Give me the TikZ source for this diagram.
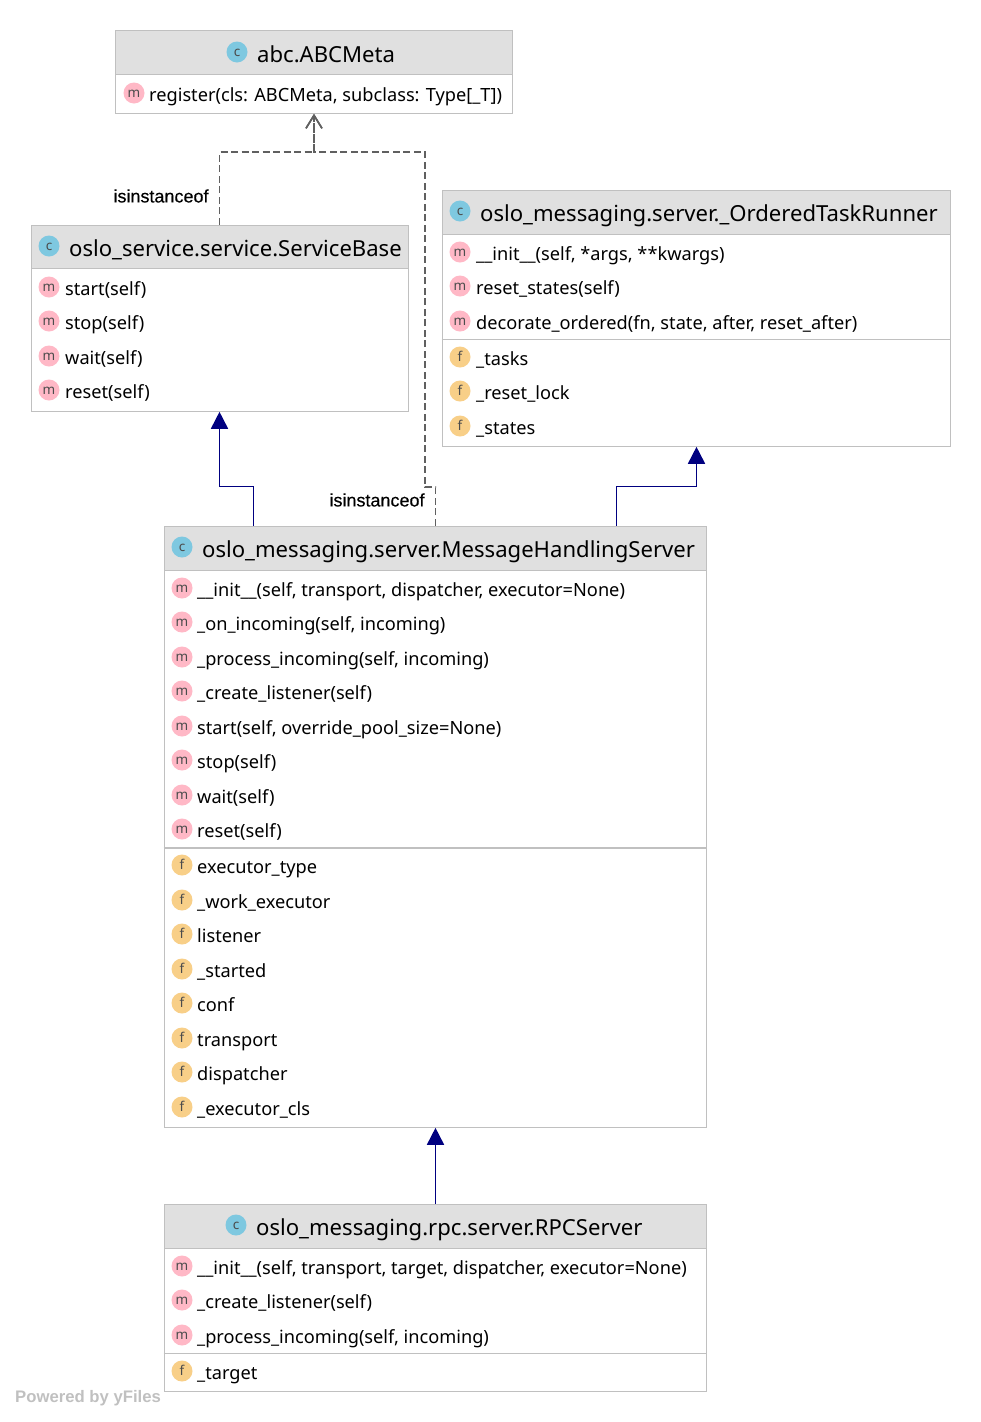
\documentclass[tikz,border=0pt]{standalone}
\usepackage{fontspec}
\setmainfont{Noto Sans}
\newfontfamily\edgefont[FakeBold=0.35]{Liberation Sans}
\newfontfamily\yfilesfont{Liberation Sans}
\usetikzlibrary{positioning,arrows.meta}
\definecolor{boxline}{HTML}{C0C0C0}
\definecolor{headfill}{HTML}{E0E0E0}
\definecolor{iconc}{HTML}{7EC8E0}
\definecolor{iconm}{HTML}{FFB8C6}
\definecolor{iconf}{HTML}{F8CF88}
\definecolor{inherit}{HTML}{000080}
\definecolor{instance}{HTML}{606060}
\tikzset{
  classbox/.style={draw=boxline, line width=1.3pt, fill=white, inner sep=0pt, anchor=north west},
  headbox/.style={draw=boxline, line width=1.3pt, fill=headfill, inner sep=0pt, anchor=north west},
  divider/.style={draw=boxline, line width=1.3pt},
  badge/.style={circle, inner sep=0pt, minimum size=21pt, text=black!70, text height=9pt, text depth=0pt, font=\fontsize{13.5}{14}\selectfont},
  headtext/.style={anchor=base west, inner sep=0pt, font=\fontsize{22.1}{24}\selectfont},
  membertext/.style={anchor=base west, inner sep=0pt, font=\fontsize{18.2}{20}\selectfont},
  edgetext/.style={inner sep=0pt, font=\edgefont\fontsize{18}{18}\selectfont},
  extends/.style={draw=inherit, line width=1.7pt, -{Triangle[length=17pt,width=17pt]}},
  isinstance/.style={draw=instance, line width=1.6pt, dash pattern=on 7pt off 3.5pt, -{Straight Barb[length=13pt,width=16pt]}}
}

\begin{document}
\begin{tikzpicture}[x=1pt, y=-1pt]
\useasboundingbox (0,0) rectangle (981,1422);
% Boxes
\node[classbox, minimum width=397pt, minimum height=83pt] (abcbox) at (114.5,29.5) {};
\node[headbox, minimum width=397pt, minimum height=44pt] (abchead) at (114.5,29.5) {};
\node[classbox, minimum width=377pt, minimum height=186pt] (basebox) at (30.5,224.5) {};
\node[headbox, minimum width=377pt, minimum height=43pt] (basehead) at (30.5,224.5) {};
\node[classbox, minimum width=508pt, minimum height=256pt] (runnerbox) at (441.5,189.5) {};
\node[headbox, minimum width=508pt, minimum height=44pt] (runnerhead) at (441.5,189.5) {};
\node[classbox, minimum width=542pt, minimum height=601pt] (serverbox) at (163.5,525.5) {};
\node[headbox, minimum width=542pt, minimum height=44pt] (serverhead) at (163.5,525.5) {};
\node[classbox, minimum width=542pt, minimum height=187pt] (rpcbox) at (163.5,1203.5) {};
\node[headbox, minimum width=542pt, minimum height=44pt] (rpchead) at (163.5,1203.5) {};
% Dividers
\draw[divider] (runnerbox.west |- 0,339.5) -- (runnerbox.east |- 0,339.5);
\draw[divider] (serverbox.west |- 0,848) -- (serverbox.east |- 0,848);
\draw[divider] (rpcbox.west |- 0,1353.5) -- (rpcbox.east |- 0,1353.5);
% Titles
\node[badge, fill=iconc] (abcicon) at (237,52) {c};
\node[headtext] (abctitle) at (257,62) {abc.ABCMeta};
\node[badge, fill=iconc] (baseicon) at (49,246) {c};
\node[headtext] (basetitle) at (69,256) {oslo\_service.service.ServiceBase};
\node[badge, fill=iconc] (runnericon) at (460,211) {c};
\node[headtext] (runnertitle) at (480,221) {oslo\_messaging.server.\_OrderedTaskRunner};
\node[badge, fill=iconc] (servericon) at (182,547) {c};
\node[headtext] (servertitle) at (202,557) {oslo\_messaging.server.MessageHandlingServer};
\node[badge, fill=iconc] (rpcicon) at (236,1225) {c};
\node[headtext] (rpctitle) at (256,1235) {oslo\_messaging.rpc.server.RPCServer};
% Members
\node[badge, fill=iconm] (abcm) at (134,93) {m};
\node[membertext] (abcmt) at (149,101) {register(cls: ABCMeta, subclass: Type[\_T])};
\foreach \y/\t [count=\n] in {288/start(self), 322/stop(self), 357/wait(self), 391/reset(self)} {
  \node[badge, fill=iconm] (basem\n) at (49,\y-1) {m};
  \node[membertext] (basemt\n) at (65,\y+7) {\t};
}
\foreach \y/\t [count=\n] in {253/{\_\_init\_\_(self, *args, **kwargs)}, 287/reset\_states(self), 322/{decorate\_ordered(fn, state, after, reset\_after)}} {
  \node[badge, fill=iconm] (runnerm\n) at (460,\y-1) {m};
  \node[membertext] (runnermt\n) at (476,\y+7) {\t};
}
\foreach \y/\t [count=\n] in {358/\_tasks, 392/\_reset\_lock, 427/\_states} {
  \node[badge, fill=iconf] (runnerf\n) at (460,\y-1) {f};
  \node[membertext] (runnerft\n) at (476,\y+7) {\t};
}
\foreach \y/\t [count=\n] in {589/{\_\_init\_\_(self, transport, dispatcher, executor=None)}, 623/{\_on\_incoming(self, incoming)}, 658/{\_process\_incoming(self, incoming)}, 692/\_create\_listener(self), 727/{start(self, override\_pool\_size=None)}, 761/stop(self), 796/wait(self), 830/reset(self)} {
  \node[badge, fill=iconm] (serverm\n) at (182,\y-1) {m};
  \node[membertext] (servermt\n) at (197,\y+7) {\t};
}
\foreach \y/\t [count=\n] in {866/executor\_type, 901/\_work\_executor, 935/listener, 970/\_started, 1004/conf, 1039/transport, 1073/dispatcher, 1108/\_executor\_cls} {
  \node[badge, fill=iconf] (serverf\n) at (182,\y-1) {f};
  \node[membertext] (serverft\n) at (197,\y+7) {\t};
}
\foreach \y/\t [count=\n] in {1267/{\_\_init\_\_(self, transport, target, dispatcher, executor=None)}, 1301/\_create\_listener(self), 1336/{\_process\_incoming(self, incoming)}} {
  \node[badge, fill=iconm] (rpcm\n) at (182,\y-1) {m};
  \node[membertext] (rpcmt\n) at (197,\y+7) {\t};
}
\node[badge, fill=iconf] (rpcf) at (182,1371) {f};
\node[membertext] (rpcft) at (197,1379) {\_target};
% Lines
\coordinate (joinleft) at (219.5,152);
\coordinate (joinmid) at (314,152);
\coordinate (joinright) at (425,152);
\coordinate (stepright) at (425,487);
\coordinate (stepserver) at (435.5,487);
\draw[isinstance] (basebox.north -| joinleft) -- (joinleft) -- (joinmid) -- (abcbox.south -| joinmid);
\draw[isinstance] (serverbox.north -| stepserver) -- (stepserver) -- (stepright) -- (joinright) -- (joinmid) -- (abcbox.south -| joinmid);
\coordinate (baseleft) at (253.5,486.5);
\coordinate (baseup) at (219.5,486.5);
\coordinate (runnerleft) at (616.5,486.5);
\coordinate (runnerup) at (696.5,486.5);
\coordinate (rpcup) at (435.5,1165);
\draw[extends] (serverbox.north -| baseleft) -- (baseleft) -- (baseup) -- (basebox.south -| baseup);
\draw[extends] (serverbox.north -| runnerleft) -- (runnerleft) -- (runnerup) -- (runnerbox.south -| runnerup);
\draw[extends] (rpcbox.north -| rpcup) -- (serverbox.south -| rpcup);
% Labels
\node[edgetext] (instanceup) at (161,196) {isinstanceof};
\node[edgetext] (instancedown) at (377,500) {isinstanceof};
\node[inner sep=0pt, text=boxline, anchor=west, font=\yfilesfont\bfseries\fontsize{16.7}{18}\selectfont] (powered) at (15,1398) {Powered by yFiles};
\end{tikzpicture}
\end{document}
